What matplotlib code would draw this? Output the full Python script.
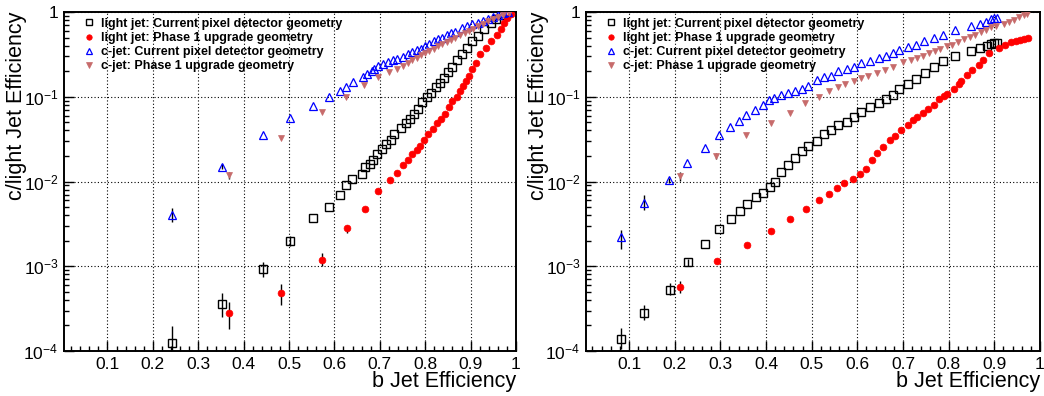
import matplotlib
matplotlib.use("Agg")
import matplotlib.pyplot as plt
import numpy as np
from matplotlib.ticker import FixedLocator, MultipleLocator, LogLocator, NullFormatter

plt.rcParams['font.family'] = ['Liberation Sans', 'DejaVu Sans']
plt.rcParams['mathtext.fontset'] = 'custom'
plt.rcParams['mathtext.rm'] = 'Liberation Sans'
plt.rcParams['mathtext.it'] = 'Liberation Sans:italic'
plt.rcParams['mathtext.bf'] = 'Liberation Sans:bold'

# ---------------- data: left panel ----------------
L_light_cur_x = [0.243,0.353,0.442,0.502,0.553,0.587,0.613,0.626,0.639,0.660,0.668,0.678,0.685,0.694,0.704,0.714,0.725,0.732,0.747,0.757,0.766,0.776,0.785,0.794,0.803,0.813,0.823,0.832,0.841,0.850,0.859,0.870,0.880,0.891,0.903,0.916,0.929,0.944,0.955,0.968,0.982]
L_light_cur_y = [1.23e-4,3.6e-4,9.4e-4,2.0e-3,3.7e-3,5.0e-3,7.0e-3,9.1e-3,1.07e-2,1.23e-2,1.5e-2,1.6e-2,1.8e-2,2.1e-2,2.4e-2,2.75e-2,3.1e-2,3.6e-2,4.3e-2,4.9e-2,5.5e-2,6.3e-2,7.2e-2,8.6e-2,9.8e-2,1.12e-1,1.31e-1,1.47e-1,1.67e-1,1.96e-1,2.27e-1,2.74e-1,3.2e-1,3.8e-1,4.5e-1,5.25e-1,6.3e-1,7.4e-1,8.3e-1,9.2e-1,1.0]
L_light_cur_eup = [7.2e-5,1.3e-4,1.9e-4,2.5e-4]
L_light_cur_elo = [6.0e-5,1.1e-4,1.9e-4,2.5e-4]

L_light_ph1_x = [0.368,0.482,0.573,0.627,0.668,0.697,0.722,0.737,0.751,0.762,0.772,0.781,0.788,0.797,0.807,0.817,0.826,0.834,0.843,0.853,0.860,0.869,0.876,0.884,0.890,0.896,0.904,0.911,0.921,0.934,0.946,0.958,0.967,0.974,0.980,0.988]
L_light_ph1_y = [2.8e-4,4.8e-4,1.2e-3,2.8e-3,4.8e-3,7.7e-3,1.03e-2,1.25e-2,1.56e-2,1.8e-2,2.1e-2,2.34e-2,2.6e-2,3.1e-2,3.6e-2,4.2e-2,4.9e-2,5.5e-2,6.3e-2,7.5e-2,8.8e-2,1.0e-1,1.17e-1,1.35e-1,1.55e-1,1.77e-1,2.12e-1,2.53e-1,3.2e-1,3.8e-1,4.6e-1,5.4e-1,6.3e-1,7.4e-1,8.4e-1,9.6e-1]
L_light_ph1_eup = [1.0e-4,1.4e-4,2.5e-4,3.0e-4]
L_light_ph1_elo = [1.0e-4,1.3e-4,2.0e-4,3.0e-4]

L_c_cur_x = [0.243,0.353,0.442,0.502,0.553,0.587,0.612,0.626,0.641,0.662,0.672,0.682,0.688,0.697,0.708,0.718,0.729,0.737,0.751,0.762,0.771,0.781,0.790,0.799,0.809,0.819,0.829,0.838,0.847,0.856,0.865,0.880,0.891,0.902,0.917,0.928,0.939,0.950,0.961,0.972,0.983]
L_c_cur_y = [4.0e-3,1.49e-2,3.5e-2,5.6e-2,7.8e-2,9.9e-2,1.18e-1,1.32e-1,1.5e-1,1.69e-1,1.87e-1,2.04e-1,2.14e-1,2.28e-1,2.45e-1,2.57e-1,2.7e-1,2.8e-1,2.94e-1,3.2e-1,3.4e-1,3.55e-1,3.7e-1,4.0e-1,4.2e-1,4.5e-1,4.8e-1,5.0e-1,5.4e-1,5.6e-1,5.8e-1,6.5e-1,6.9e-1,7.3e-1,7.4e-1,7.9e-1,8.3e-1,8.7e-1,9.1e-1,9.7e-1,1.0]
L_c_cur_eup = [9.0e-4,1.0e-3]
L_c_cur_elo = [7.0e-4,1.0e-3]

L_c_ph1_x = [0.368,0.482,0.572,0.626,0.666,0.696,0.721,0.737,0.751,0.762,0.772,0.782,0.791,0.799,0.809,0.819,0.829,0.838,0.847,0.856,0.865,0.876,0.887,0.896,0.905,0.916,0.928,0.939,0.950,0.961,0.972,0.985]
L_c_ph1_y = [1.18e-2,3.25e-2,6.6e-2,1.0e-1,1.37e-1,1.69e-1,1.97e-1,2.15e-1,2.3e-1,2.5e-1,2.68e-1,2.9e-1,3.1e-1,3.3e-1,3.5e-1,3.7e-1,4.0e-1,4.2e-1,4.4e-1,4.7e-1,4.9e-1,5.3e-1,5.6e-1,5.9e-1,6.3e-1,6.8e-1,7.2e-1,7.8e-1,8.3e-1,8.8e-1,9.2e-1,9.8e-1]
L_c_ph1_eup = [1.0e-3]
L_c_ph1_elo = [1.0e-3]

# ---------------- data: right panel ----------------
R_light_cur_x = [0.082,0.133,0.189,0.229,0.267,0.298,0.323,0.343,0.358,0.378,0.394,0.408,0.419,0.433,0.448,0.464,0.478,0.493,0.512,0.528,0.542,0.557,0.577,0.592,0.607,0.627,0.647,0.662,0.677,0.692,0.712,0.728,0.749,0.767,0.787,0.814,0.849,0.868,0.885,0.893,0.900,0.906]
R_light_cur_y = [1.4e-4,2.8e-4,5.3e-4,1.12e-3,1.83e-3,2.76e-3,3.6e-3,4.5e-3,5.4e-3,6.5e-3,7.4e-3,8.5e-3,9.8e-3,1.3e-2,1.58e-2,1.9e-2,2.3e-2,2.6e-2,3.0e-2,3.6e-2,4.1e-2,4.6e-2,5.1e-2,5.8e-2,6.6e-2,7.6e-2,8.4e-2,9.3e-2,1.05e-1,1.22e-1,1.4e-1,1.62e-1,1.92e-1,2.25e-1,2.65e-1,3.0e-1,3.5e-1,3.8e-1,4.0e-1,4.2e-1,4.3e-1,4.35e-1]
R_light_cur_eup = [4.5e-5,7.0e-5,1.0e-4,1.0e-4]
R_light_cur_elo = [3.3e-5,5.0e-5,7.0e-5,1.0e-4]

R_light_ph1_x = [0.212,0.292,0.358,0.412,0.453,0.488,0.517,0.537,0.556,0.570,0.590,0.605,0.618,0.633,0.644,0.657,0.672,0.682,0.696,0.710,0.721,0.731,0.744,0.755,0.768,0.779,0.790,0.797,0.812,0.823,0.827,0.840,0.852,0.867,0.875,0.889,0.910,0.924,0.936,0.947,0.957,0.966,0.974]
R_light_ph1_y = [5.7e-4,1.15e-3,1.76e-3,2.6e-3,3.6e-3,4.75e-3,6.1e-3,7.1e-3,8.4e-3,9.5e-3,1.07e-2,1.24e-2,1.4e-2,1.78e-2,2.14e-2,2.57e-2,3.1e-2,3.45e-2,4.0e-2,4.7e-2,5.3e-2,5.7e-2,6.5e-2,7.2e-2,8.1e-2,9.3e-2,1.02e-1,1.09e-1,1.25e-1,1.43e-1,1.54e-1,1.79e-1,2.05e-1,2.4e-1,2.74e-1,3.3e-1,3.8e-1,4.05e-1,4.4e-1,4.55e-1,4.7e-1,4.85e-1,5.0e-1]
R_light_ph1_eup = [1.0e-4]
R_light_ph1_elo = [9.0e-5]

R_c_cur_x = [0.082,0.133,0.187,0.227,0.266,0.296,0.321,0.341,0.356,0.375,0.393,0.406,0.417,0.432,0.448,0.463,0.478,0.492,0.512,0.526,0.542,0.557,0.577,0.592,0.607,0.627,0.647,0.662,0.677,0.692,0.712,0.728,0.747,0.767,0.787,0.814,0.849,0.868,0.882,0.893,0.900,0.906]
R_c_cur_y = [2.2e-3,5.6e-3,1.03e-2,1.67e-2,2.5e-2,3.5e-2,4.36e-2,5.2e-2,6.1e-2,7.0e-2,8.0e-2,9.1e-2,9.7e-2,1.05e-1,1.11e-1,1.18e-1,1.25e-1,1.33e-1,1.59e-1,1.69e-1,1.74e-1,2.0e-1,2.14e-1,2.27e-1,2.48e-1,2.64e-1,2.84e-1,3.02e-1,3.25e-1,3.55e-1,3.9e-1,4.13e-1,4.5e-1,4.9e-1,5.4e-1,6.1e-1,6.8e-1,7.2e-1,7.7e-1,8.3e-1,8.4e-1,8.5e-1]
R_c_cur_eup = [5.0e-4,1.3e-3,8.0e-4]
R_c_cur_elo = [6.0e-4,1.0e-3,8.0e-4]

R_c_ph1_x = [0.211,0.290,0.356,0.412,0.452,0.486,0.517,0.537,0.557,0.574,0.592,0.607,0.624,0.644,0.660,0.679,0.701,0.718,0.731,0.743,0.756,0.770,0.782,0.797,0.808,0.821,0.834,0.846,0.858,0.871,0.882,0.893,0.904,0.922,0.933,0.944,0.955,0.964,0.972]
R_c_ph1_y = [1.15e-2,2.0e-2,3.5e-2,4.9e-2,6.4e-2,8.4e-2,1.0e-1,1.16e-1,1.29e-1,1.41e-1,1.52e-1,1.66e-1,1.74e-1,1.9e-1,2.08e-1,2.27e-1,2.6e-1,2.72e-1,2.9e-1,3.05e-1,3.25e-1,3.45e-1,3.7e-1,3.95e-1,4.13e-1,4.4e-1,4.8e-1,5.1e-1,5.4e-1,5.8e-1,6.1e-1,6.6e-1,6.9e-1,7.2e-1,7.6e-1,8.1e-1,8.7e-1,9.1e-1,9.5e-1]
R_c_ph1_eup = [1.3e-3,1.5e-3]
R_c_ph1_elo = [1.3e-3,1.5e-3]

labels = ["light jet: Current pixel detector geometry",
          "light jet: Phase 1 upgrade geometry",
          "c-jet: Current pixel detector geometry",
          "c-jet: Phase 1 upgrade geometry"]
x_ticks = [0.1, 0.2, 0.3, 0.4, 0.5, 0.6, 0.7, 0.8, 0.9, 1.0]
x_ticklabels = ["0.1", "0.2", "0.3", "0.4", "0.5", "0.6", "0.7", "0.8", "0.9", "1"]
y_ticks = [1e-4, 1e-3, 1e-2, 1e-1, 1]
y_ticklabels = ["$10^{-4}$", "$10^{-3}$", "$10^{-2}$", "$10^{-1}$", "1"]

PINK = '#c76b6b'
styles = [
    dict(marker='s', mfc='none', mec='black', ms=5.8, mew=1.0, ecolor='black'),
    dict(marker='o', mfc='#ff0000', mec='#ff0000', ms=4.9, mew=0.5, ecolor='black'),
    dict(marker='^', mfc='none', mec='#0000ff', ms=6.2, mew=0.9, ecolor='black'),
    dict(marker='v', mfc=PINK, mec=PINK, ms=4.9, mew=0.5, ecolor='black'),
]


def pad(err, n):
    return list(err) + [0.0] * (n - len(err))


def panel(ax, series, xmin, leg_x):
    handles = []
    for (x, y, eup, elo), st, lab in zip(series, styles, labels):
        n = len(x)
        yerr = np.array([pad(elo, n), pad(eup, n)])
        ax.errorbar(x, y, yerr=yerr, fmt='none', ecolor=st['ecolor'], elinewidth=1.0, capsize=0, zorder=2)
        h, = ax.plot(x, y, ls='none', marker=st['marker'], mfc=st['mfc'], mec=st['mec'],
                     ms=st['ms'], mew=st['mew'], zorder=3, label=lab)
        handles.append(h)
    ax.set_yscale('log')
    ax.set_ylim(1e-4, 1)
    ax.set_xlim(xmin, 1.0)
    ax.xaxis.set_major_locator(FixedLocator(x_ticks))
    ax.set_xticklabels(x_ticklabels)
    ax.xaxis.set_minor_locator(MultipleLocator(0.02))
    ax.yaxis.set_major_locator(FixedLocator(y_ticks))
    ax.set_yticklabels(y_ticklabels)
    ax.yaxis.set_minor_locator(LogLocator(base=10, subs=np.arange(2, 10)))
    ax.yaxis.set_minor_formatter(NullFormatter())
    ax.tick_params(which='both', direction='in', top=False, right=False, labelsize=12.5, pad=4)
    ax.tick_params(which='major', length=7, width=1.0)
    ax.tick_params(which='minor', length=3.8, width=1.0)
    ax.grid(True, which='major', ls=(0, (1, 2)), lw=0.8, color='black')
    for s in ax.spines.values():
        s.set_linewidth(1.4)
    ax.set_xlabel("b Jet Efficiency", fontsize=15.5, loc='right')
    ax.set_ylabel("c/light Jet Efficiency", fontsize=15.5, loc='top')
    ax.xaxis.set_label_coords(1.0, -0.06)
    ax.yaxis.set_label_coords(-0.082, 1.0)
    leg = ax.legend(handles=handles, loc='upper left', bbox_to_anchor=(leg_x, 0.998),
                    frameon=False, prop={'weight': 'bold', 'size': 9.0}, handlelength=1.0,
                    handletextpad=0.45, labelspacing=0.18, borderaxespad=0.0, markerscale=0.8)
    return leg


fig = plt.figure(figsize=(10.44, 3.96), dpi=100)
axL = fig.add_axes([64/1044, 45/396, 452/1044, 339/396])
axR = fig.add_axes([586/1044, 45/396, 454/1044, 339/396])

panel(axL, [(L_light_cur_x, L_light_cur_y, L_light_cur_eup, L_light_cur_elo),
            (L_light_ph1_x, L_light_ph1_y, L_light_ph1_eup, L_light_ph1_elo),
            (L_c_cur_x, L_c_cur_y, L_c_cur_eup, L_c_cur_elo),
            (L_c_ph1_x, L_c_ph1_y, L_c_ph1_eup, L_c_ph1_elo)], 0.0043, 0.03)
panel(axR, [(R_light_cur_x, R_light_cur_y, R_light_cur_eup, R_light_cur_elo),
            (R_light_ph1_x, R_light_ph1_y, R_light_ph1_eup, R_light_ph1_elo),
            (R_c_cur_x, R_c_cur_y, R_c_cur_eup, R_c_cur_elo),
            (R_c_ph1_x, R_c_ph1_y, R_c_ph1_eup, R_c_ph1_elo)], 0.0058, 0.03)

fig.savefig("out.png", dpi=100)
